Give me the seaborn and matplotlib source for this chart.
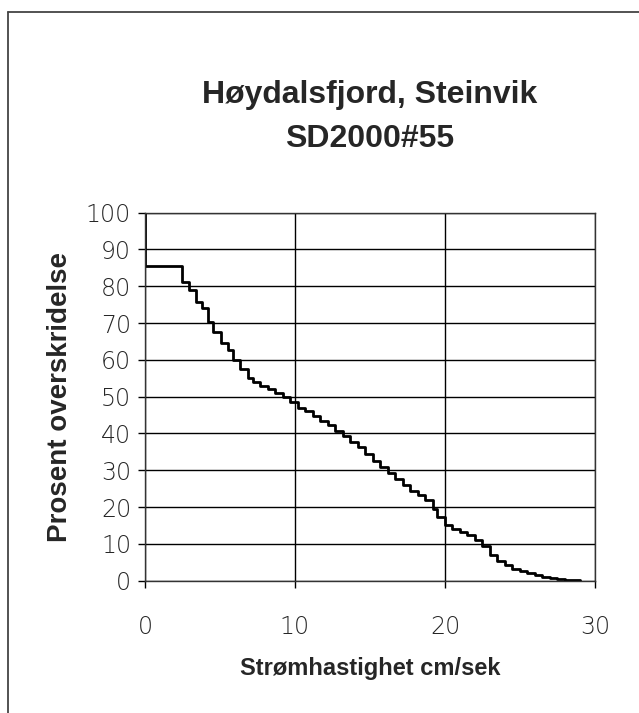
import matplotlib
matplotlib.use("Agg")
import matplotlib.pyplot as plt
import seaborn as sns
import pandas as pd
from matplotlib.lines import Line2D

# values (steps)
speed = [0, 0, 2.5, 2.95, 3.4, 3.8, 4.2, 4.55, 5.05, 5.55, 5.9, 6.35, 6.85, 7.2,
         7.7, 8.2, 8.7, 9.2, 9.7, 10.2, 10.7, 11.2, 11.7, 12.2, 12.7, 13.2, 13.7,
         14.2, 14.7, 15.2, 15.7, 16.2, 16.7, 17.2, 17.7, 18.2, 18.7, 19.2, 19.5,
         20.0, 20.5, 21.0, 21.5, 22.0, 22.5, 23.0, 23.5, 24.0, 24.5, 25.0, 25.5,
         26.0, 26.5, 27.0, 27.5, 28.0, 28.5, 29.0]
exceed = [100, 85.5, 81.2, 79, 75.8, 74, 70.4, 67.7, 64.5, 62.7, 60, 57.4, 55, 54,
          53, 52, 51, 50, 48.5, 47, 46, 44.8, 43.5, 42.3, 40.6, 39.3, 37.7,
          36.3, 34.5, 32.5, 30.8, 29.2, 27.5, 26, 24.5, 23.2, 21.8, 19.5, 17.3,
          15.1, 14, 13.2, 12.3, 11, 9.5, 7, 5.3, 4.2, 3.2, 2.6, 2.1,
          1.6, 1.1, 0.8, 0.5, 0.3, 0.15, 0]

x_ticks = [0, 10, 20, 30]
y_ticks = list(range(0, 101, 10))

df = pd.DataFrame({"speed": speed, "exceed": exceed})

sns.set_style("ticks")
plt.rcParams["font.family"] = ["Liberation Sans", "DejaVu Sans"]

fig = plt.figure(figsize=(6.39, 7.13), dpi=100)
ax = fig.add_axes([0.2269, 0.1856, 0.7042, 0.5161])

sns.lineplot(data=df, x="speed", y="exceed", ax=ax, estimator=None, sort=False,
             drawstyle="steps-post", color="black", linewidth=2.0)

ax.set_xlim(0, 30)
ax.set_ylim(0, 100)
ax.set_xticks(x_ticks)
ax.set_yticks(y_ticks)
ax.grid(True, color="black", linewidth=1.0)
ax.set_axisbelow(True)
for s in ax.spines.values():
    s.set_color("#333333")
    s.set_linewidth(1.0)
ax.tick_params(direction="out", length=5, width=1, color="black",
               labelsize=17, pad=5)
for lab in ax.get_xticklabels() + ax.get_yticklabels():
    lab.set_family(["DejaVu Sans"])
    lab.set_fontweight("light")
ax.tick_params(axis="x", pad=20)

ax.set_xlabel("Strømhastighet cm/sek", fontsize=17, fontweight="bold", labelpad=13)
ax.set_ylabel("Prosent overskridelse", fontsize=20, fontweight="bold", labelpad=9)
ax.set_title("Høydalsfjord, Steinvik\nSD2000#55", fontsize=23, fontweight="bold",
             linespacing=1.62, pad=47)

# scanned page frame (top and left edges)
fig.add_artist(Line2D([8 / 639, 8 / 639], [0, 1 - 12 / 713], transform=fig.transFigure,
                      color="#444444", linewidth=1.3))
fig.add_artist(Line2D([8 / 639, 1], [1 - 12 / 713, 1 - 12 / 713], transform=fig.transFigure,
                      color="#444444", linewidth=1.3))

fig.savefig("out.png", dpi=100)
